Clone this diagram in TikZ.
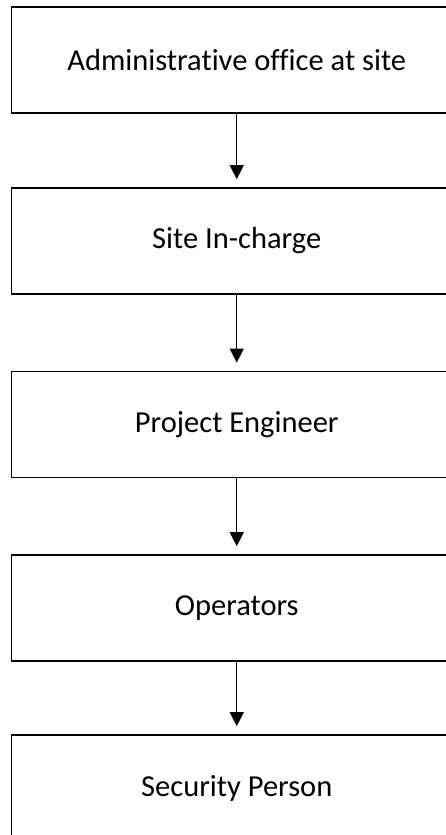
\documentclass[tikz,border=0pt]{standalone}
\usepackage{fontspec}
\setmainfont[Ligatures={NoCommon}]{Carlito}
\usetikzlibrary{arrows.meta}
\tikzset{
  orgbox/.style={draw=black, line width=1.7pt, fill=white, minimum width=450.5pt, minimum height=106pt, inner sep=0pt, font=\fontsize{30.5}{36}\selectfont},
  arr/.style={line width=1.3pt, -{Triangle[width=14pt,length=14pt]}, shorten >=8pt}
}
\begin{document}
\begin{tikzpicture}
\clip (0,0) rectangle (446pt,-835pt);
\fill[white] (0,0) rectangle (446pt,-835pt);
\node[orgbox] (b1) at (236.75pt,-60pt) {Administrative office at site};
\node[orgbox] (b2) at (236.75pt,-241pt) {Site In-charge};
\node[orgbox] (b3) at (236.75pt,-424.5pt) {Project Engineer};
\node[orgbox] (b4) at (236.75pt,-608pt) {Operators};
\node[orgbox] (b5) at (236.75pt,-788pt) {Security Person};
\draw[arr] (b1.south) -- (b2.north);
\draw[arr] (b2.south) -- (b3.north);
\draw[arr] (b3.south) -- (b4.north);
\draw[arr] (b4.south) -- (b5.north);
\end{tikzpicture}
\end{document}
